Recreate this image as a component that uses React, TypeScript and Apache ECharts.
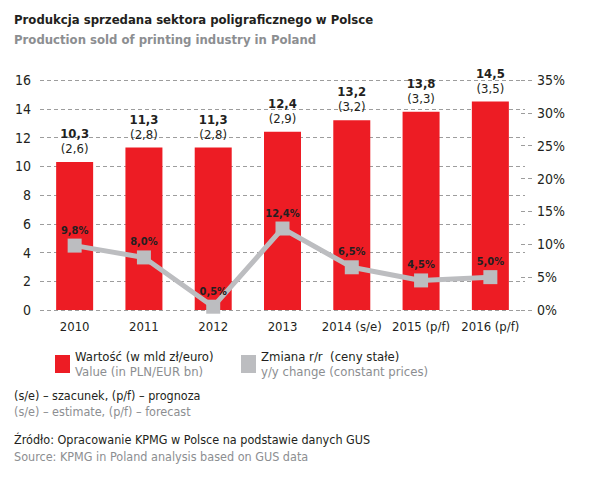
import React, { useEffect, useRef } from "react";
import * as echarts from "echarts";

const categories = ["2010", "2011", "2012", "2013", "2014 (s/e)", "2015 (p/f)", "2016 (p/f)"];
const valuesPLN = [10.3, 11.3, 11.3, 12.4, 13.2, 13.8, 14.5];
const valuesEUR = [2.6, 2.8, 2.8, 2.9, 3.2, 3.3, 3.5];
const changeYY = [9.8, 8.0, 0.5, 12.4, 6.5, 4.5, 5.0];

const FONT = "'Liberation Sans Narrow', 'DejaVu Sans Condensed', 'Arial Narrow', sans-serif";
const RED = "#ed1c24";
const GRAY = "#bcbdc0";
const DARK = "#231f20";
const LIGHT = "#8c8e91";

const fmt = (v: number) => v.toFixed(1).replace(".", ",");

export default function App() {
  const ref = useRef<HTMLDivElement>(null);
  useEffect(() => {
    if (!ref.current) return;
    const chart = echarts.init(ref.current, null, { renderer: "svg" });
    const legendRich = {
      a: { fontFamily: FONT, fontSize: 13, color: DARK, lineHeight: 15 },
      b: { fontFamily: FONT, fontSize: 13, color: LIGHT, lineHeight: 15 },
    };
    chart.setOption({
      animation: false,
      backgroundColor: "#fff",
      textStyle: { fontFamily: FONT },
      grid: { left: 40, right: 76, top: 80, bottom: 179 },
      legend: [
        {
          data: [{ name: "Wartość", icon: "rect" }],
          left: 50,
          top: 345,
          itemWidth: 15,
          itemHeight: 18,
          itemGap: 10,
          formatter: () => "{a|Wartość (w mld zł/euro)}\n{b|Value (in PLN/EUR bn)}",
          textStyle: { rich: legendRich },
        },
        {
          data: [{ name: "Zmiana", icon: "rect" }],
          left: 236,
          top: 345,
          itemWidth: 15,
          itemHeight: 18,
          itemGap: 10,
          formatter: () => "{a|Zmiana r/r  (ceny stałe)}\n{b|y/y change (constant prices)}",
          textStyle: { rich: legendRich },
        },
      ],
      xAxis: {
        type: "category",
        data: categories,
        axisLine: { show: false },
        axisTick: { show: false },
        axisLabel: { color: DARK, fontSize: 13, fontFamily: FONT, margin: 10, interval: 0 },
      },
      yAxis: [
        {
          type: "value",
          min: 0,
          max: 16,
          interval: 2,
          axisLine: { show: false },
          axisTick: { show: false },
          axisLabel: { color: DARK, fontSize: 14, fontFamily: FONT, margin: 9 },
          splitLine: { lineStyle: { color: "#9d9d9d", type: [4, 3], width: 1 } },
        },
        {
          type: "value",
          min: 0,
          max: 35,
          interval: 5,
          position: "right",
          offset: 7,
          axisLine: { show: false },
          axisTick: {
            show: true,
            inside: true,
            length: 12,
            lineStyle: { color: "#9d9d9d", type: [4, 3], width: 1 },
          },
          axisLabel: {
            color: DARK,
            fontSize: 14,
            fontFamily: FONT,
            margin: 5,
            formatter: (v: number) => v + "%",
          },
          splitLine: { show: false },
        },
      ],
      series: [
        {
          name: "Wartość",
          type: "bar",
          data: valuesPLN,
          barWidth: 37,
          itemStyle: { color: RED },
          label: {
            show: true,
            position: "top",
            distance: 6,
            formatter: (p: any) =>
              `{a|${fmt(valuesPLN[p.dataIndex])}}\n{b|(${fmt(valuesEUR[p.dataIndex])})}`,
            rich: {
              a: { fontFamily: FONT, fontSize: 13, fontWeight: "bold", color: DARK, lineHeight: 15 },
              b: { fontFamily: FONT, fontSize: 13, color: DARK, lineHeight: 15 },
            },
          },
          z: 2,
        },
        {
          name: "Zmiana",
          type: "line",
          yAxisIndex: 1,
          data: changeYY,
          symbol: "rect",
          symbolSize: 14,
          itemStyle: { color: GRAY },
          lineStyle: { color: GRAY, width: 5 },
          label: {
            show: true,
            position: "top",
            distance: 3,
            fontFamily: FONT,
            fontSize: 11,
            fontWeight: "bold",
            color: DARK,
            formatter: (p: any) => fmt(changeYY[p.dataIndex]) + "%",
          },
          z: 3,
        },
      ],
      graphic: [
        {
          type: "text",
          left: 14,
          top: 13,
          style: { text: "Produkcja sprzedana sektora poligraficznego w Polsce", font: `bold 13px ${FONT}`, fill: DARK },
        },
        {
          type: "text",
          left: 14,
          top: 33,
          style: { text: "Production sold of printing industry in Poland", font: `bold 13px ${FONT}`, fill: LIGHT },
        },
        {
          type: "text",
          left: 14,
          top: 389,
          style: { text: "(s/e) – szacunek, (p/f) – prognoza", font: `12.5px ${FONT}`, fill: DARK },
        },
        {
          type: "text",
          left: 14,
          top: 405,
          style: { text: "(s/e) – estimate, (p/f) – forecast", font: `12.5px ${FONT}`, fill: LIGHT },
        },
        {
          type: "text",
          left: 14,
          top: 433,
          style: { text: "Źródło: Opracowanie KPMG w Polsce na podstawie danych GUS", font: `12.5px ${FONT}`, fill: DARK },
        },
        {
          type: "text",
          left: 14,
          top: 450,
          style: { text: "Source: KPMG in Poland analysis based on GUS data", font: `12.5px ${FONT}`, fill: LIGHT },
        },
      ],
    });
    return () => chart.dispose();
  }, []);
  return <div ref={ref} style={{ position: "fixed", left: 0, top: 0, width: 601, height: 489 }} />;
}
